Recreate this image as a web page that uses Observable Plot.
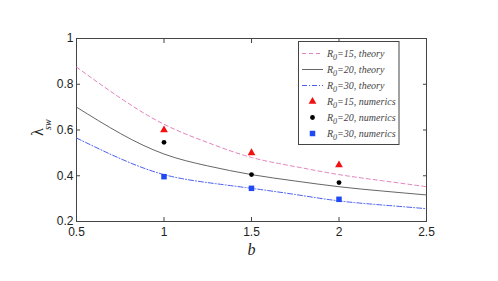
<!DOCTYPE html>
<html><head><meta charset="utf-8">
<script src="https://cdn.jsdelivr.net/npm/d3@7"></script>
<script src="https://cdn.jsdelivr.net/npm/@observablehq/plot@0.6"></script>
<style>body{margin:0;background:#fff}</style>
</head><body><div id="chart"></div>
<script>
// theory curves
const bGrid    = [0.5, 0.75, 1, 1.25, 1.5, 1.75, 2, 2.25, 2.5];
const theory15 = [0.875, 0.74, 0.625, 0.545, 0.48, 0.44, 0.405, 0.378, 0.352];
const theory20 = [0.70, 0.585, 0.495, 0.443, 0.405, 0.377, 0.352, 0.333, 0.316];
const theory30 = [0.565, 0.475, 0.405, 0.37, 0.345, 0.318, 0.29, 0.272, 0.256];
// numerical results
const numB  = [1, 1.5, 2];
const num15 = [0.60, 0.50, 0.447];
const num20 = [0.546, 0.405, 0.37];
const num30 = [0.396, 0.345, 0.297];
// ticks
const xTicks = [0.5, 1, 1.5, 2, 2.5];
const xTickLabels = ["0.5", "1", "1.5", "2", "2.5"];
const yTicks = [0.2, 0.4, 0.6, 0.8, 1];
const yTickLabels = ["0.2", "0.4", "0.6", "0.8", "1"];
const legendLabels = [
  ["15", ", theory"], ["20", ", theory"], ["30", ", theory"],
  ["15", ", numerics"], ["20", ", numerics"], ["30", ", numerics"]
];

const PINK = "#e383c0", GREY = "#555", BLUE = "#4a5ff0";
const RED = "#f01010", BLACK = "#000", SQ = "#1f49f5";

const pts = (xs, ys) => xs.map((b, i) => ({b, v: ys[i]}));
const fx = d => xTickLabels[xTicks.indexOf(d)];
const fy = d => yTickLabels[yTicks.indexOf(d)];

const chart = Plot.plot({
  width: 498, height: 281,
  marginLeft: 76, marginRight: 72, marginTop: 38, marginBottom: 60,
  style: {fontFamily: "Liberation Sans, Arial, sans-serif", fontSize: "12px", color: "#222", background: "#fff"},
  x: {domain: [0.5, 2.5]},
  y: {domain: [0.2, 1]},
  marks: [
    Plot.frame({stroke: "#444"}),
    Plot.axisX(xTicks, {anchor: "bottom", tickSize: -4, tickFormat: () => "", label: null, stroke: "#444"}),
    Plot.axisX(xTicks, {anchor: "top", tickSize: -4, tickFormat: () => "", label: null, stroke: "#444"}),
    Plot.axisY(yTicks, {anchor: "left", tickSize: -4, tickFormat: () => "", label: null, stroke: "#444"}),
    Plot.axisY(yTicks, {anchor: "right", tickSize: -4, tickFormat: () => "", label: null, stroke: "#444"}),
    Plot.axisX(xTicks, {anchor: "bottom", tickSize: 0, tickPadding: 6, tickFormat: fx, label: null, fontSize: 12}),
    Plot.axisY(yTicks, {anchor: "left", tickSize: 0, tickPadding: 3, tickFormat: fy, label: null, fontSize: 12}),
    Plot.line(pts(bGrid, theory15), {x: "b", y: "v", curve: "natural", stroke: PINK, strokeWidth: 1, strokeDasharray: "4,3"}),
    Plot.line(pts(bGrid, theory20), {x: "b", y: "v", curve: "natural", stroke: GREY, strokeWidth: 0.9}),
    Plot.line(pts(bGrid, theory30), {x: "b", y: "v", curve: "natural", stroke: BLUE, strokeWidth: 1, strokeDasharray: "5,2,1,2"}),
    Plot.dot(pts(numB, num15), {x: "b", y: "v", symbol: "triangle", r: 2.9, fill: RED}),
    Plot.dot(pts(numB, num20), {x: "b", y: "v", symbol: "circle", r: 2.4, fill: BLACK}),
    Plot.dot(pts(numB, num30), {x: "b", y: "v", symbol: "square", r: 3.1, fill: SQ}),
    Plot.text(["b"], {frameAnchor: "bottom", dy: 33, fontSize: 16, fontStyle: "italic", fontFamily: "Liberation Serif, Times New Roman, serif", fill: "#222"}),
    Plot.text(["λ"], {frameAnchor: "left", dx: -39, dy: 6, rotate: -90, fontSize: 16, fontFamily: "Liberation Serif, Times New Roman, serif", fill: "#222"}),
    Plot.text(["sw"], {frameAnchor: "left", dx: -29, dy: 0, rotate: -90, fontSize: 10, fontStyle: "italic", fontFamily: "Liberation Serif, Times New Roman, serif", fill: "#222"})
  ]
});
document.getElementById("chart").appendChild(chart);

// legend box inside the plot (top right)
const svg = d3.select(chart);
const lg = svg.append("g")
  .attr("font-family", "Liberation Serif, Times New Roman, serif")
  .attr("font-style", "italic").attr("font-size", 10).attr("fill", "#444")
  .attr("text-anchor", "start");
const L = {x0: 298.5, y0: 41.5, w: 100.5, h: 103};
lg.append("rect").attr("x", L.x0).attr("y", L.y0).attr("width", L.w).attr("height", L.h)
  .attr("fill", "#fff").attr("stroke", "#444").attr("stroke-width", 1);
const rowY = i => 53.5 + i * 16;
const lineStyles = [[PINK, "4,3", 1], [GREY, null, 0.9], [BLUE, "5,2,1,2", 1]];
lineStyles.forEach(([c, dash, w], i) => {
  const ln = lg.append("line").attr("x1", 302).attr("x2", 323).attr("y1", rowY(i)).attr("y2", rowY(i))
    .attr("stroke", c).attr("stroke-width", w).attr("fill", "none");
  if (dash) ln.attr("stroke-dasharray", dash);
});
const sym = [d3.symbolTriangle, d3.symbolCircle, d3.symbolSquare];
const symFill = [RED, BLACK, SQ];
const symSize = [Math.PI * 2.9 * 2.9, Math.PI * 2.4 * 2.4, Math.PI * 3.1 * 3.1];
[0, 1, 2].forEach(i => {
  lg.append("path").attr("d", d3.symbol(sym[i], symSize[i])())
    .attr("transform", `translate(312.5,${rowY(i + 3)})`).attr("fill", symFill[i]);
});
legendLabels.forEach(([r, rest], i) => {
  const t = lg.append("text").attr("x", 327).attr("y", rowY(i) + 3.5).attr("text-anchor", "start");
  t.append("tspan").text("R");
  t.append("tspan").attr("dy", 3).attr("font-size", 8).text("0");
  t.append("tspan").attr("dy", -3).text("=" + r + rest);
});
</script>
</body></html>
